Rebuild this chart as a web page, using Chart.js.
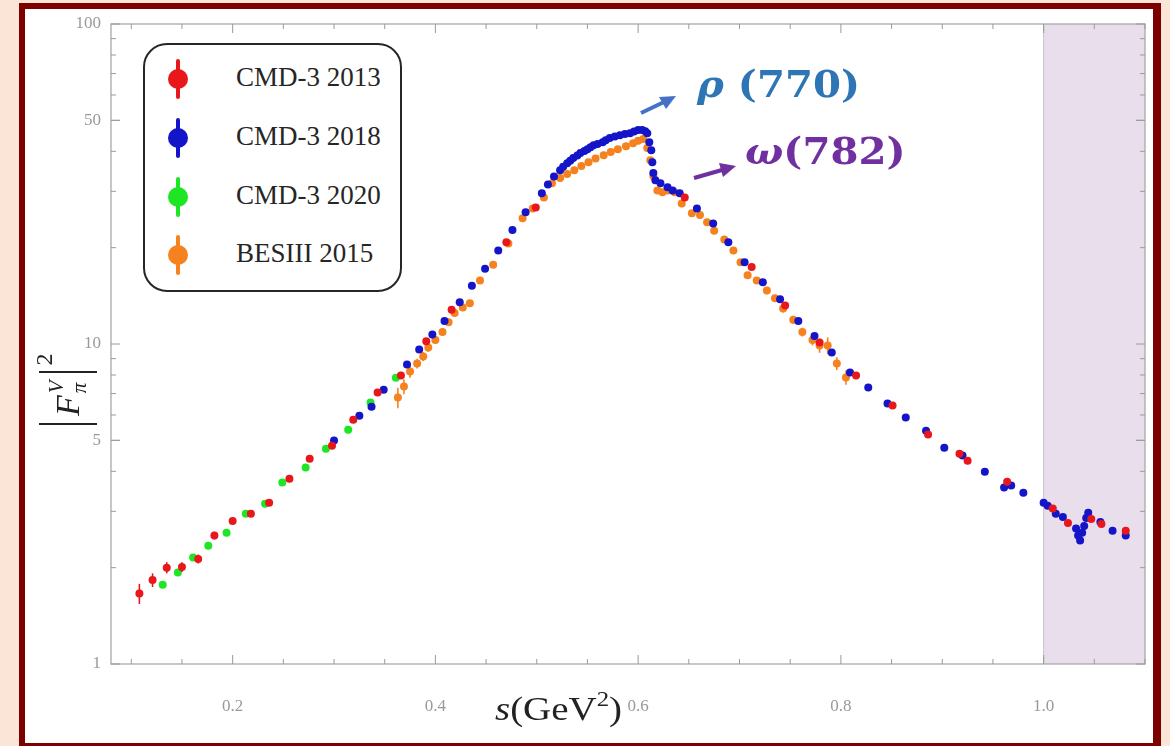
<!DOCTYPE html>
<html>
<head>
<meta charset="utf-8">
<script src="https://cdn.jsdelivr.net/npm/chart.js@4.4.1/dist/chart.umd.min.js"></script>
<style>
  html, body { margin: 0; padding: 0; }
  body { width: 1170px; height: 746px; background: #fbe5d6; position: relative; overflow: hidden;
         font-family: "Liberation Serif", serif; }
  #frame { position: absolute; left: 19px; top: 3px; width: 1142px; height: 746px; box-sizing: border-box;
           border: 6px solid #7d0000; border-right-width: 8px; background: #fff; }
  #chart { position: absolute; left: 0; top: 0; }
  #legend { position: absolute; left: 143px; top: 43px; width: 259px; height: 249px; box-sizing: border-box;
            border: 2px solid #262626; border-radius: 24px; background: #fff; }
  .item { position: absolute; left: 0; height: 40px; width: 255px; }
  .mark { position: absolute; left: 23px; top: 0; width: 20px; height: 40px; }
  .mark:before { content: ""; position: absolute; left: 8px; top: 0; width: 4px; height: 40px; background: var(--c); border-radius: 2px; }
  .mark:after { content: ""; position: absolute; left: 0; top: 10px; width: 20px; height: 20px; border-radius: 50%; background: var(--c); }
  .item span.t { position: absolute; left: 91px; top: 3px; font-size: 27px; color: #262626; white-space: nowrap; }
  #xtitle { position: absolute; left: 495px; top: 691px; font-size: 33px; color: #222; white-space: nowrap;
            transform: scaleX(1.18); transform-origin: left top; }
  #xtitle sup { font-size: 21px; vertical-align: 0; position: relative; top: -14px; }
  #ytitle { position: absolute; left: 4px; top: 331px; width: 128px; height: 66px; transform: rotate(-90deg);
            display: flex; align-items: center; color: #222; }
  #ytitle .bar { width: 2px; height: 58px; background: #222; margin: 0 3px; }
  #ytitle .F { font-size: 34px; font-style: italic; margin-left: 4px; }
  #ytitle .ss { display: inline-flex; flex-direction: column; font-size: 21px; font-style: italic; line-height: 23px; margin: 0 4px 0 2px; }
  #ytitle .sq { font-size: 24px; align-self: flex-start; margin-top: -4px; margin-left: 3px; }
  .ann { position: absolute; font-family: "DejaVu Serif", serif; font-weight: bold; font-size: 38px; white-space: nowrap;
         transform: scaleX(1.06); transform-origin: left top; }
  #rho { left: 697px; top: 61px; color: #2e75b6; }
  #omega { left: 745px; top: 128px; color: #7030a0; }
  .ann i { font-style: italic; }
  #arrows { position: absolute; left: 0; top: 0; }
</style>
</head>
<body>
<div id="frame"></div>
<canvas id="chart" width="1170" height="746"></canvas>

<div id="legend">
  <div class="item" style="top:14px"><div class="mark" style="--c:#e8171c"></div><span class="t">CMD-3 2013</span></div>
  <div class="item" style="top:73px"><div class="mark" style="--c:#1414c8"></div><span class="t">CMD-3 2018</span></div>
  <div class="item" style="top:132px"><div class="mark" style="--c:#1ee624"></div><span class="t">CMD-3 2020</span></div>
  <div class="item" style="top:190px"><div class="mark" style="--c:#f5821e"></div><span class="t">BESIII 2015</span></div>
</div>

<div id="xtitle"><i>s</i>(GeV<sup>2</sup>)</div>
<div id="ytitle"><span class="bar"></span><span class="F">F</span><span class="ss"><span>V</span><span>π</span></span><span class="bar"></span><span class="sq">2</span></div>

<div class="ann" id="rho"><i>ρ</i> (770)</div>
<div class="ann" id="omega"><i>ω</i>(782)</div>

<svg id="arrows" width="1170" height="746">
  <line x1="641" y1="113" x2="664" y2="102" stroke="#4472c4" stroke-width="4"/>
  <polygon points="676,96 659,97 666,109" fill="#4472c4"/>
  <line x1="694" y1="178" x2="722" y2="170" stroke="#7030a0" stroke-width="4"/>
  <polygon points="736,166 719,163 723,177" fill="#7030a0"/>
</svg>

<script>
// [s (GeV^2), |F|^2, error]
var cmd3_2013 = [
  [0.108, 1.66, 0.12], [0.121, 1.83, 0.09], [0.135, 2.00, 0.08], [0.150, 2.01, 0.07], [0.166, 2.13, 0.07],
  [0.182, 2.52, 0.07], [0.200, 2.80, 0.06], [0.218, 2.95, 0.06], [0.236, 3.19, 0.06], [0.256, 3.79, 0.07],
  [0.276, 4.38, 0.07], [0.298, 4.81, 0.07], [0.319, 5.80, 0.08], [0.343, 7.05, 0.09], [0.366, 7.97, 0.1],
  [0.391, 10.2, 0.12], [0.416, 12.8, 0.14], [0.470, 20.8, 0.2], [0.499, 26.7, 0.25], [0.646, 28.7, 0.25],
  [0.712, 17.4, 0.2], [0.745, 13.2, 0.15], [0.779, 10.1, 0.12], [0.815, 7.97, 0.1], [0.851, 6.42, 0.08],
  [0.886, 5.21, 0.07], [0.917, 4.54, 0.06], [0.925, 4.32, 0.06], [0.964, 3.71, 0.05], [1.009, 3.06, 0.05],
  [1.024, 2.76, 0.05], [1.047, 2.84, 0.05], [1.057, 2.74, 0.05], [1.081, 2.61, 0.05]
];

var cmd3_2018 = [
  [0.300, 4.99, 0.04], [0.325, 5.97, 0.05], [0.337, 6.37, 0.05], [0.349, 7.20, 0.06], [0.372, 8.63, 0.07],
  [0.384, 9.61, 0.08], [0.397, 10.7, 0.08], [0.409, 11.8, 0.09], [0.424, 13.5, 0.1], [0.436, 15.2, 0.1],
  [0.449, 17.2, 0.12], [0.462, 19.6, 0.14], [0.476, 22.7, 0.15], [0.489, 25.8, 0.16], [0.505, 29.6, 0.18],
  [0.511, 31.5, 0.2], [0.517, 33.4, 0.2], [0.523, 34.9, 0.2], [0.526, 35.8, 0.2], [0.530, 36.7, 0.2],
  [0.533, 37.4, 0.2], [0.536, 38.1, 0.2], [0.540, 38.8, 0.2], [0.543, 39.5, 0.2], [0.547, 40.1, 0.2],
  [0.550, 40.6, 0.2], [0.553, 41.2, 0.2], [0.556, 41.8, 0.2], [0.560, 42.2, 0.2], [0.565, 42.7, 0.2],
  [0.568, 43.3, 0.2], [0.572, 44.0, 0.2], [0.577, 44.5, 0.2], [0.582, 44.9, 0.2], [0.587, 45.3, 0.2],
  [0.592, 45.6, 0.2], [0.596, 46.1, 0.2], [0.600, 46.6, 0.2], [0.604, 46.6, 0.2], [0.607, 46.2, 0.2],
  [0.609, 45.6, 0.2], [0.611, 42.7, 0.2], [0.613, 40.3, 0.2], [0.614, 37.0, 0.2], [0.615, 34.2, 0.2],
  [0.617, 32.5, 0.2], [0.622, 31.8, 0.2], [0.629, 30.9, 0.2], [0.634, 30.2, 0.2], [0.641, 29.6, 0.2],
  [0.658, 26.5, 0.18], [0.674, 23.8, 0.16], [0.689, 20.8, 0.15], [0.705, 18.0, 0.13], [0.723, 15.6, 0.12],
  [0.740, 13.8, 0.1], [0.758, 11.8, 0.09], [0.774, 10.6, 0.08], [0.791, 9.40, 0.07], [0.809, 8.15, 0.06],
  [0.827, 7.31, 0.06], [0.846, 6.52, 0.05], [0.864, 5.89, 0.05], [0.884, 5.36, 0.04], [0.902, 4.74, 0.04],
  [0.920, 4.48, 0.04], [0.942, 3.99, 0.03], [0.961, 3.56, 0.03], [0.968, 3.61, 0.03], [0.980, 3.43, 0.03],
  [1.000, 3.19, 0.03], [1.004, 3.12, 0.03], [1.012, 2.95, 0.03], [1.019, 2.88, 0.03], [1.032, 2.65, 0.03],
  [1.034, 2.52, 0.03], [1.036, 2.43, 0.03], [1.038, 2.57, 0.03], [1.040, 2.70, 0.03], [1.042, 2.86, 0.03],
  [1.044, 2.97, 0.03], [1.056, 2.78, 0.03], [1.068, 2.61, 0.03], [1.081, 2.52, 0.03]
];

var cmd3_2020 = [
  [0.131, 1.77, 0.04], [0.146, 1.93, 0.04], [0.161, 2.15, 0.04], [0.176, 2.34, 0.04], [0.194, 2.57, 0.04],
  [0.213, 2.95, 0.05], [0.232, 3.17, 0.05], [0.249, 3.69, 0.05], [0.272, 4.11, 0.06], [0.292, 4.71, 0.06],
  [0.314, 5.40, 0.07], [0.336, 6.56, 0.08], [0.361, 7.85, 0.09]
];

var besiii_2015 = [
  [0.363, 6.80, 0.5], [0.369, 7.36, 0.4], [0.375, 8.20, 0.35], [0.382, 8.69, 0.3], [0.388, 9.14, 0.3],
  [0.393, 9.75, 0.3], [0.400, 10.3, 0.3], [0.407, 10.9, 0.3], [0.413, 11.7, 0.3], [0.419, 12.5, 0.3],
  [0.427, 13.0, 0.3], [0.434, 13.4, 0.3], [0.444, 15.8, 0.35], [0.457, 17.7, 0.4], [0.472, 20.6, 0.4],
  [0.486, 24.7, 0.45], [0.496, 26.5, 0.45], [0.507, 28.7, 0.5], [0.515, 31.8, 0.5], [0.523, 33.0, 0.5],
  [0.530, 34.0, 0.5], [0.537, 34.9, 0.5], [0.544, 36.0, 0.5], [0.551, 37.0, 0.5], [0.558, 38.0, 0.5],
  [0.566, 38.9, 0.5], [0.573, 39.8, 0.5], [0.580, 40.6, 0.5], [0.588, 41.5, 0.5], [0.595, 42.4, 0.5],
  [0.600, 43.2, 0.5], [0.605, 43.7, 0.5], [0.609, 41.0, 0.5], [0.612, 37.5, 0.5], [0.615, 33.5, 0.5],
  [0.619, 30.2, 0.5], [0.624, 29.8, 0.5], [0.629, 30.2, 0.5], [0.636, 29.8, 0.5], [0.643, 27.5, 0.5],
  [0.653, 25.6, 0.5], [0.661, 25.3, 0.5], [0.668, 24.0, 0.5], [0.675, 22.6, 0.5], [0.685, 21.2, 0.45],
  [0.694, 19.6, 0.45], [0.701, 18.0, 0.4], [0.708, 16.4, 0.4], [0.717, 15.8, 0.4], [0.727, 14.7, 0.4],
  [0.735, 13.9, 0.35], [0.743, 12.9, 0.35], [0.753, 11.9, 0.35], [0.762, 10.9, 0.35], [0.772, 10.3, 0.4],
  [0.779, 9.89, 0.5], [0.787, 9.89, 0.6], [0.796, 8.69, 0.4], [0.805, 7.86, 0.4]
];

var xTickLabels = [0.2, 0.4, 0.6, 0.8, 1.0];
var yTickLabels = [1, 5, 10, 50, 100];
var shadeFrom = 1.0;

function toPoints(rows) {
  return rows.map(function (r) { return { x: r[0], y: r[1], e: r[2] }; });
}

// minor tick positions
var xMinor = [];
for (var i = 2; i <= 22; i++) xMinor.push(i * 0.05);
var yMinor = [];
[1, 10].forEach(function (d) { for (var k = 2; k <= 9; k++) yMinor.push(k * d); });

var shadePlugin = {
  id: 'shade',
  beforeDatasetsDraw: function (chart) {
    var a = chart.chartArea, ctx = chart.ctx;
    var px = chart.scales.x.getPixelForValue(shadeFrom);
    ctx.save();
    ctx.fillStyle = '#e9deec';
    ctx.fillRect(px, a.top, a.right - px, a.bottom - a.top);
    ctx.strokeStyle = 'rgba(160,150,165,0.5)';
    ctx.beginPath(); ctx.moveTo(px, a.top); ctx.lineTo(px, a.bottom); ctx.stroke();
    ctx.restore();
  }
};

var errorBars = {
  id: 'errorBars',
  beforeDatasetDraw: function (chart, args) {
    var ds = chart.data.datasets[args.index];
    var x = chart.scales.x, y = chart.scales.y, ctx = chart.ctx;
    ctx.save();
    ctx.strokeStyle = ds.backgroundColor;
    ctx.lineWidth = 1.6;
    ds.data.forEach(function (p) {
      var px = x.getPixelForValue(p.x);
      ctx.beginPath();
      ctx.moveTo(px, y.getPixelForValue(p.y - p.e));
      ctx.lineTo(px, y.getPixelForValue(p.y + p.e));
      ctx.stroke();
    });
    ctx.restore();
  }
};

var frameTicks = {
  id: 'frameTicks',
  afterDatasetsDraw: function (chart) {
    var a = chart.chartArea, ctx = chart.ctx;
    var x = chart.scales.x, y = chart.scales.y;
    ctx.save();
    ctx.strokeStyle = '#a9a9a9';
    ctx.lineWidth = 1.3;
    ctx.strokeRect(a.left, a.top, a.right - a.left, a.bottom - a.top);
    ctx.lineWidth = 1;
    ctx.strokeStyle = '#9a9a9a';
    function seg(x1, y1, x2, y2) { ctx.beginPath(); ctx.moveTo(x1, y1); ctx.lineTo(x2, y2); ctx.stroke(); }
    xMinor.forEach(function (v) {
      var major = xTickLabels.some(function (m) { return Math.abs(m - v) < 1e-6; });
      var len = major ? 9 : 5;
      var px = x.getPixelForValue(v);
      if (px < a.left || px > a.right) return;
      seg(px, a.bottom, px, a.bottom - len);
      seg(px, a.top, px, a.top + len);
    });
    yMinor.concat(yTickLabels).forEach(function (v) {
      var major = yTickLabels.indexOf(v) >= 0;
      var len = major ? 9 : 5;
      var py = y.getPixelForValue(v);
      seg(a.left, py, a.left + len, py);
      seg(a.right, py, a.right - len, py);
    });
    ctx.restore();
  }
};

var tickFont = { family: '"Liberation Serif", serif', size: 17 };

new Chart(document.getElementById('chart').getContext('2d'), {
  type: 'scatter',
  data: {
    datasets: [
      { label: 'CMD-3 2013', data: toPoints(cmd3_2013), backgroundColor: '#e8171c' },
      { label: 'CMD-3 2018', data: toPoints(cmd3_2018), backgroundColor: '#1414c8' },
      { label: 'CMD-3 2020', data: toPoints(cmd3_2020), backgroundColor: '#1ee624' },
      { label: 'BESIII 2015', data: toPoints(besiii_2015), backgroundColor: '#f5821e' }
    ]
  },
  options: {
    responsive: false,
    animation: false,
    elements: { point: { radius: 4, borderWidth: 0, hoverRadius: 4 } },
    layout: { padding: { left: 51, top: 24, right: 25, bottom: 22 } },
    plugins: { legend: { display: false }, tooltip: { enabled: false } },
    scales: {
      x: {
        type: 'linear', min: 0.08, max: 1.1,
        grid: { display: false, drawTicks: false },
        border: { display: false },
        ticks: { font: tickFont, color: '#999999', padding: 32, autoSkip: false, maxRotation: 0,
                 callback: function (v) { return v.toFixed(1); } },
        afterBuildTicks: function (s) { s.ticks = xTickLabels.map(function (v) { return { value: v }; }); },
        afterFit: function (s) { s.height = 60; }
      },
      y: {
        type: 'logarithmic', min: 1, max: 100,
        grid: { display: false, drawTicks: false },
        border: { display: false },
        ticks: { font: tickFont, color: '#999999', padding: 10, autoSkip: false,
                 callback: function (v) { return String(v); } },
        afterBuildTicks: function (s) { s.ticks = yTickLabels.map(function (v) { return { value: v }; }); },
        afterFit: function (s) { s.width = 60; }
      }
    }
  },
  plugins: [shadePlugin, errorBars, frameTicks]
});
</script>
</body>
</html>
